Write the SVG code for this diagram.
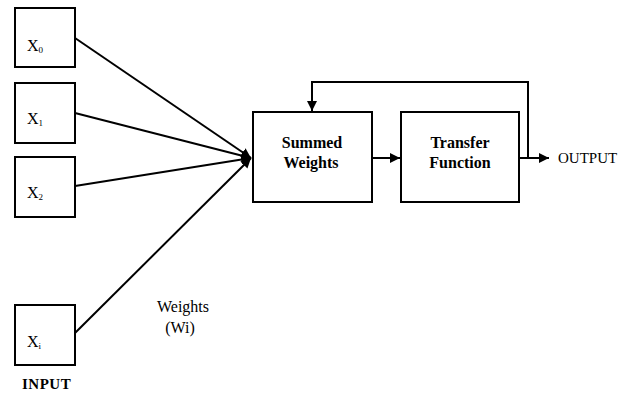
<svg xmlns="http://www.w3.org/2000/svg" width="627" height="396" viewBox="0 0 627 396">
<style>
.box{fill:#fff;stroke:#000;stroke-width:2}
.ln{fill:none;stroke:#000;stroke-width:2}
text{font-family:"Liberation Serif","Times New Roman",Times,Tinos,"Noto Serif","DejaVu Serif",serif;fill:#000}
.b{font-weight:bold;font-size:16px;text-anchor:middle}
.x{font-size:16px}
.s{font-size:9px}
</style>
<defs>
<marker id="ah" viewBox="0 0 10 10" refX="10" refY="5" markerWidth="5" markerHeight="5" markerUnits="strokeWidth" orient="auto">
<path d="M0,0 L10,5 L0,10 z" fill="#000"/>
</marker>
</defs>
<rect width="627" height="396" fill="#fff"/>
<g id="connectors">
<line class="ln" x1="75" y1="38" x2="251" y2="158" marker-end="url(#ah)"/>
<line class="ln" x1="75" y1="113" x2="251" y2="158" marker-end="url(#ah)"/>
<line class="ln" x1="75" y1="186" x2="251" y2="158" marker-end="url(#ah)"/>
<line class="ln" x1="75" y1="333" x2="251" y2="158" marker-end="url(#ah)"/>
<line class="ln" x1="372" y1="158" x2="400" y2="158" marker-end="url(#ah)"/>
<line class="ln" x1="519" y1="158" x2="549" y2="158" marker-end="url(#ah)"/>
<polyline class="ln" points="528,158 528,82 312,82 312,111" marker-end="url(#ah)"/>
</g>
<g id="x0"><rect class="box" x="15" y="8" width="60" height="59"/><text class="x" x="27" y="51">X<tspan class="s" dy="2">0</tspan></text></g>
<g id="x1"><rect class="box" x="15" y="83" width="60" height="60"/><text class="x" x="27" y="124">X<tspan class="s" dy="2">1</tspan></text></g>
<g id="x2"><rect class="box" x="15" y="157" width="60" height="60"/><text class="x" x="27" y="198">X<tspan class="s" dy="2">2</tspan></text></g>
<g id="xi"><rect class="box" x="15" y="305" width="60" height="60"/><text class="x" x="27" y="347">X<tspan class="s" dy="2">i</tspan></text></g>
<g id="input"><text x="22" y="389" font-size="15" font-weight="bold" letter-spacing="0.5">INPUT</text></g>
<g id="weights-label"><text x="183" y="312" font-size="16" text-anchor="middle">Weights</text><text x="180" y="333" font-size="16" text-anchor="middle">(Wi)</text></g>
<g id="summed"><rect class="box" x="253" y="112" width="119" height="90"/><text class="b" x="312" y="148">Summed</text><text class="b" x="311" y="168">Weights</text></g>
<g id="transfer"><rect class="box" x="401" y="112" width="118" height="90"/><text class="b" x="460" y="148">Transfer</text><text class="b" x="460" y="168">Function</text></g>
<g id="output"><text x="558" y="163" font-size="15">OUTPUT</text></g>
</svg>
